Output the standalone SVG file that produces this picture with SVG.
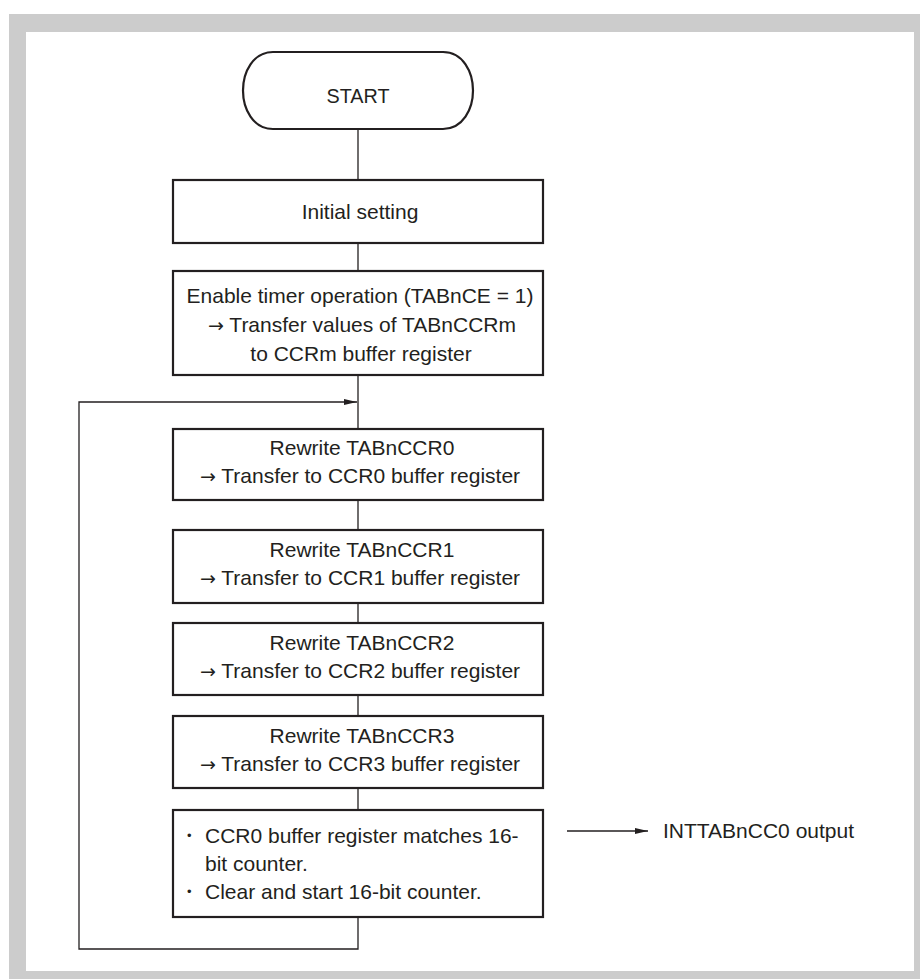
<svg xmlns="http://www.w3.org/2000/svg" width="920" height="979" viewBox="0 0 920 979">
<style>
  .box { fill: #ffffff; stroke: #231f20; stroke-width: 2.2; }
  .ln { fill: none; stroke: #231f20; stroke-width: 1.3; }
  text { font-family: "Liberation Sans", Arial, sans-serif; font-size: 21px; fill: #231f20; }
  .c { text-anchor: middle; }
  .ar { font-family: "DejaVu Sans", sans-serif; font-size: 19px; }
  .bl { font-size: 13px; }
</style>
<defs>
  <marker id="ah" markerWidth="14" markerHeight="8" refX="13" refY="4" orient="auto" markerUnits="userSpaceOnUse">
    <path d="M0,1 L13,4 L0,7 Z" fill="#231f20"/>
  </marker>
</defs>
<rect x="9" y="14" width="911" height="965" fill="#cccccc"/>
<rect x="26" y="32" width="888" height="939" fill="#ffffff"/>

<g id="connectors">
  <line class="ln" x1="358" y1="129" x2="358" y2="180"/>
  <line class="ln" x1="358" y1="243" x2="358" y2="271"/>
  <line class="ln" x1="358" y1="375" x2="358" y2="429"/>
  <line class="ln" x1="358" y1="500" x2="358" y2="530"/>
  <line class="ln" x1="358" y1="603" x2="358" y2="623"/>
  <line class="ln" x1="358" y1="695" x2="358" y2="716"/>
  <line class="ln" x1="358" y1="788" x2="358" y2="810"/>
  <polyline class="ln" points="358,917 358,949 79,949 79,402 357,402" marker-end="url(#ah)"/>
  <line class="ln" x1="567" y1="831" x2="648" y2="831" marker-end="url(#ah)"/>
</g>

<g id="start">
  <path class="box" d="M273,52 L443,52 C463,52 473,72 473,90.5 C473,109 463,129 443,129 L273,129 C253,129 243,109 243,90.5 C243,72 253,52 273,52 Z"/>
  <text class="c" x="358" y="103" textLength="63" lengthAdjust="spacingAndGlyphs">START</text>
</g>

<g id="initial">
  <rect class="box" x="173" y="180" width="370" height="63"/>
  <text class="c" x="360" y="219">Initial setting</text>
</g>

<g id="enable">
  <rect class="box" x="173" y="271" width="370" height="104"/>
  <text class="c" x="360" y="303">Enable timer operation (TABnCE = 1)</text>
  <text class="c" x="362" y="332"><tspan class="ar">→</tspan> Transfer values of TABnCCRm</text>
  <text class="c" x="361" y="361">to CCRm buffer register</text>
</g>

<g id="ccr0">
  <rect class="box" x="173" y="429" width="370" height="71"/>
  <text class="c" x="362" y="455">Rewrite TABnCCR0</text>
  <text class="c" x="360" y="483"><tspan class="ar">→</tspan> Transfer to CCR0 buffer register</text>
</g>

<g id="ccr1">
  <rect class="box" x="173" y="530" width="370" height="73"/>
  <text class="c" x="362" y="557">Rewrite TABnCCR1</text>
  <text class="c" x="360" y="585"><tspan class="ar">→</tspan> Transfer to CCR1 buffer register</text>
</g>

<g id="ccr2">
  <rect class="box" x="173" y="623" width="370" height="72"/>
  <text class="c" x="362" y="650">Rewrite TABnCCR2</text>
  <text class="c" x="360" y="678"><tspan class="ar">→</tspan> Transfer to CCR2 buffer register</text>
</g>

<g id="ccr3">
  <rect class="box" x="173" y="716" width="370" height="72"/>
  <text class="c" x="362" y="743">Rewrite TABnCCR3</text>
  <text class="c" x="360" y="771"><tspan class="ar">→</tspan> Transfer to CCR3 buffer register</text>
</g>

<g id="match">
  <rect class="box" x="173" y="810" width="370" height="107"/>
  <text class="bl" x="187" y="840">•</text>
  <text x="205" y="843">CCR0 buffer register matches 16-</text>
  <text x="205" y="871">bit counter.</text>
  <text class="bl" x="187" y="896">•</text>
  <text x="205" y="899">Clear and start 16-bit counter.</text>
</g>

<g id="output">
  <text x="663" y="838">INTTABnCC0 output</text>
</g>
</svg>
